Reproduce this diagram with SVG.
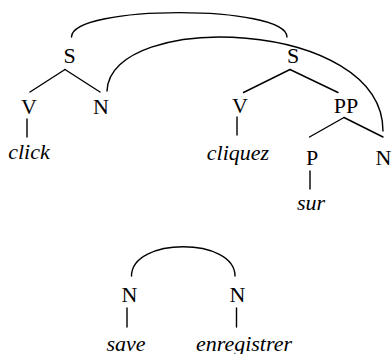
<svg xmlns="http://www.w3.org/2000/svg" width="392" height="354" viewBox="0 0 392 354">
  <style>
    .lbl { font-size: 22px; fill: #000; text-anchor: middle; }
    .word { font-style: italic; }
    .edge { stroke: #000; stroke-width: 1.4; fill: none; stroke-linecap: round; }
  </style>
  <rect width="392" height="354" fill="#fff"/>

  <!-- tree branches and correspondence arcs -->
  <g id="connectors">
    <!-- English tree -->
    <line class="edge" x1="65" y1="69.5" x2="30" y2="92"/>
    <line class="edge" x1="65" y1="69.5" x2="100" y2="92"/>
    <line class="edge" x1="27" y1="119" x2="27" y2="137"/>
    <!-- French tree -->
    <line class="edge" x1="290" y1="69.5" x2="243.5" y2="92.5"/>
    <line class="edge" x1="290" y1="69.5" x2="338" y2="92.5"/>
    <line class="edge" x1="237" y1="117" x2="237" y2="135"/>
    <line class="edge" x1="344" y1="117.5" x2="309.5" y2="137"/>
    <line class="edge" x1="344" y1="117.5" x2="383" y2="137"/>
    <line class="edge" x1="310" y1="171" x2="310" y2="189"/>
    <!-- S to S link -->
    <path class="edge" d="M71.5,37 C71.5,4.5 287,4.5 287,37"/>
    <!-- N to N link -->
    <path class="edge" d="M107,91 C110,10 383,18 383,131"/>
    <!-- lexical pair -->
    <line class="edge" x1="127" y1="308" x2="127" y2="327"/>
    <line class="edge" x1="236.5" y1="308" x2="236.5" y2="327"/>
    <path class="edge" d="M131.5,276 C131.5,237 235,237 235,276"/>
  </g>

  <g font-family="'Liberation Serif', 'DejaVu Serif', serif">
    <g id="S-en"><text class="lbl" x="69.5" y="63">S</text></g>
    <g id="V-en"><text class="lbl" x="29" y="114">V</text></g>
    <g id="N-en"><text class="lbl" x="101" y="114">N</text></g>
    <g id="click"><text class="lbl word" x="29" y="159">click</text></g>

    <g id="S-fr"><text class="lbl" x="293" y="63">S</text></g>
    <g id="V-fr"><text class="lbl" x="240" y="113">V</text></g>
    <g id="PP-fr"><text class="lbl" x="346" y="113">PP</text></g>
    <g id="cliquez"><text class="lbl word" x="238" y="160">cliquez</text></g>
    <g id="P-fr"><text class="lbl" x="312" y="165">P</text></g>
    <g id="N-fr"><text class="lbl" x="383.5" y="165">N</text></g>
    <g id="sur"><text class="lbl word" x="311" y="210">sur</text></g>

    <g id="N-save"><text class="lbl" x="129.5" y="301.5">N</text></g>
    <g id="N-enregistrer"><text class="lbl" x="237.5" y="301.5">N</text></g>
    <g id="save"><text class="lbl word" x="126" y="350.5">save</text></g>
    <g id="enregistrer"><text class="lbl word" x="244" y="350.5">enregistrer</text></g>
  </g>
</svg>
